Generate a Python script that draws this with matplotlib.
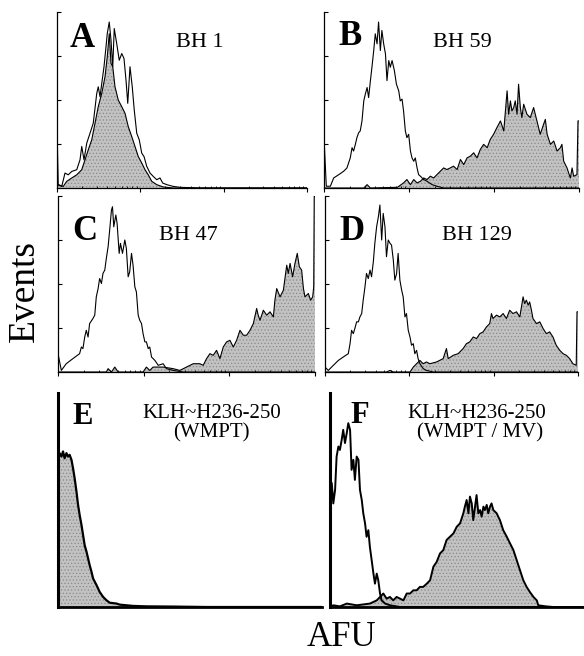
import numpy as np
import matplotlib
matplotlib.use('Agg')
import matplotlib.pyplot as plt

plt.rcParams['font.family'] = ['Liberation Serif', 'DejaVu Serif']

# channel (% of log scale, 3 decades) vs events (% of full scale)
a_open = [(0, 34.9), (0.5, 1.9), (1.9, 0.9), (3.2, 8.5), (4.5, 7.5), (5.9, 9.4), (7.9, 10.4),
          (9.2, 16.0), (9.9, 23.6), (10.8, 16.0), (11.9, 25.5), (13.2, 31.1), (14.5, 36.8),
          (15.9, 53.8), (16.5, 57.5), (17.2, 51.9), (17.9, 59.4), (18.8, 68.9), (19.6, 80.2),
          (20.1, 87.7), (20.9, 94.3), (21.6, 84.0), (22.3, 68.9), (22.9, 90.6), (23.9, 81.9),
          (24.9, 72.6), (25.9, 76.4), (26.8, 73.6), (27.6, 61.3), (28.3, 48.1), (29.2, 68.9),
          (30.1, 57.5), (30.9, 44.3), (31.9, 31.1), (32.9, 27.4), (33.9, 19.8), (34.8, 17.9),
          (35.9, 12.3), (37.2, 8.5), (38.5, 6.6), (39.9, 4.7), (41.2, 5.7), (42.3, 2.8),
          (43.9, 1.9), (46.5, 0.9), (49.2, 0.4), (57.2, 0), (100, 0)]
a_fill = [(0, 0), (0.5, 1.9), (2.5, 0.9), (3.9, 3.8), (5.9, 5.7), (7.9, 7.5), (9.9, 10.4),
          (11.2, 16.0), (12.5, 21.7), (13.9, 27.4), (15.2, 36.8), (16.5, 46.2), (17.9, 53.8),
          (19.2, 63.2), (20.1, 74.5), (20.9, 87.7), (21.6, 70.8), (22.3, 68.9), (23.2, 57.5),
          (24.5, 50.0), (25.9, 46.2), (27.2, 42.5), (28.5, 34.9), (29.9, 29.2), (31.2, 23.6),
          (32.5, 17.9), (33.9, 14.2), (35.2, 10.4), (36.5, 7.5), (37.9, 3.8), (39.9, 1.9),
          (42.5, 0.6), (46.5, 0), (100, 0)]

b_open = [(0, 28.6), (0.9, 1.0), (2.5, 1.0), (3.8, 5.7), (5.8, 7.6), (7.7, 9.5), (9.0, 11.4),
          (10.3, 17.1), (11.0, 22.9), (11.6, 21.0), (12.3, 24.8), (12.9, 28.6), (13.6, 31.4),
          (14.2, 32.4), (14.9, 38.1), (15.6, 49.5), (16.2, 53.3), (16.9, 57.1), (17.5, 51.4),
          (18.2, 61.0), (18.8, 68.6), (19.5, 78.1), (20.1, 87.6), (20.8, 81.9), (21.4, 94.3),
          (22.1, 78.1), (22.7, 89.5), (23.4, 81.9), (24.1, 76.2), (24.7, 61.0), (25.4, 72.4),
          (26.0, 68.6), (26.7, 72.4), (27.6, 66.7), (28.4, 59.0), (29.3, 55.2), (29.9, 49.5),
          (30.6, 50.5), (31.2, 43.8), (31.9, 32.4), (32.5, 28.6), (33.2, 30.5), (33.9, 21.0),
          (34.5, 17.1), (35.2, 15.2), (35.8, 17.1), (36.5, 11.4), (37.1, 7.6), (37.8, 6.7),
          (39.1, 4.8), (40.4, 3.8), (42.4, 1.9), (44.3, 1.0), (46.9, 0), (100, 0)]
b_fill = [(0, 0), (15.6, 0), (16.9, 1.9), (18.2, 0), (28.8, 0.4), (31.2, 2.9), (32.5, 4.8),
          (33.9, 1.9), (35.2, 4.8), (36.5, 2.9), (37.8, 3.8), (39.1, 5.7), (40.4, 4.8),
          (41.7, 6.7), (43.0, 5.7), (44.3, 7.6), (45.6, 9.5), (46.9, 11.4), (48.2, 10.5),
          (49.5, 11.4), (50.8, 12.4), (52.2, 10.5), (53.5, 16.2), (54.8, 13.3), (56.1, 17.1),
          (57.4, 18.1), (58.7, 20.0), (60.0, 17.1), (61.3, 21.9), (62.6, 24.8), (64.0, 22.9),
          (65.2, 27.6), (66.5, 30.5), (67.8, 34.3), (69.2, 38.1), (70.5, 32.4), (71.8, 55.2),
          (72.4, 41.9), (73.1, 49.5), (73.7, 43.8), (74.4, 45.7), (75.0, 49.5), (75.7, 41.9),
          (76.3, 59.0), (77.0, 45.7), (77.6, 40.0), (78.3, 47.6), (79.6, 41.9), (80.9, 40.0),
          (82.2, 45.7), (83.5, 38.1), (84.8, 30.5), (86.1, 36.2), (86.8, 39.0), (87.5, 30.5),
          (88.8, 24.8), (90.1, 26.7), (91.4, 21.0), (92.7, 22.9), (93.3, 24.8), (94.0, 15.2),
          (95.3, 11.4), (96.6, 5.7), (97.3, 11.4), (97.9, 6.7), (99.2, 7.6), (99.6, 38.1),
          (100, 38.1)]

c_open = [(0, 10.4), (1.3, 0.9), (3.2, 4.7), (5.8, 7.6), (8.4, 10.4), (9.1, 14.2), (9.7, 13.3),
          (10.4, 19.9), (11.0, 23.7), (11.7, 19.9), (12.3, 27.5), (13.6, 30.4), (14.3, 32.3),
          (14.9, 42.7), (15.6, 47.4), (16.2, 53.1), (16.9, 50.3), (17.5, 56.0), (18.2, 57.9),
          (18.8, 64.5), (19.5, 71.2), (20.1, 80.6), (20.8, 92.0), (21.2, 93.9), (21.7, 82.5),
          (22.5, 89.2), (23.0, 84.4), (23.8, 67.4), (24.3, 73.1), (25.1, 67.4), (26.0, 75.0),
          (26.6, 70.2), (27.3, 54.1), (27.9, 56.9), (28.6, 67.4), (29.2, 60.7), (29.9, 48.4),
          (30.5, 45.5), (31.2, 32.3), (31.8, 29.4), (32.5, 27.5), (33.1, 21.8), (33.8, 17.1),
          (34.4, 17.1), (35.1, 13.3), (35.7, 14.2), (36.4, 8.5), (37.7, 6.6), (39.0, 3.8),
          (40.9, 4.7), (42.2, 1.9), (44.8, 0.9), (48.7, 0), (100, 0)]
c_fill = [(0, 0), (18.8, 0), (19.5, 1.9), (20.8, 0), (22.1, 2.8), (23.4, 0), (33.1, 0),
          (34.4, 2.8), (35.7, 0.9), (37.0, 2.8), (40.9, 2.8), (44.8, 1.9), (47.4, 0.9),
          (50.0, 2.8), (52.6, 4.7), (55.2, 4.7), (56.5, 3.8), (57.8, 7.6), (59.1, 10.4),
          (60.4, 9.5), (61.7, 12.3), (63.0, 7.6), (64.3, 14.2), (65.6, 17.1), (66.9, 18.0),
          (68.2, 14.2), (69.5, 18.0), (70.8, 23.7), (72.1, 20.9), (73.4, 20.9), (74.7, 23.7),
          (76.0, 27.5), (77.3, 36.1), (77.9, 32.3), (78.6, 29.4), (79.9, 35.1), (81.2, 32.3),
          (82.5, 34.2), (83.8, 31.3), (84.4, 40.8), (85.1, 47.4), (86.4, 42.7), (87.7, 46.5),
          (89.0, 60.7), (89.6, 56.0), (90.3, 61.7), (91.3, 54.1), (92.2, 61.7), (93.1, 67.4),
          (93.9, 59.8), (94.8, 57.9), (95.5, 47.4), (96.1, 42.7), (97.4, 44.6), (98.3, 40.8),
          (99.1, 42.7), (99.5, 48.4), (99.7, 100), (100, 100)]

d_open = [(0, 2.8), (1.3, 0.9), (3.3, 3.8), (5.3, 6.6), (7.2, 8.5), (9.2, 10.4), (9.9, 16.1),
          (10.5, 23.7), (11.2, 21.8), (11.8, 24.7), (12.5, 28.5), (13.2, 28.5), (13.8, 31.3),
          (14.5, 33.2), (15.1, 40.8), (15.8, 48.4), (16.4, 56.0), (17.1, 53.1), (17.8, 57.9),
          (18.4, 54.1), (19.1, 62.6), (19.7, 73.1), (20.4, 82.5), (21.1, 88.2), (21.7, 94.9),
          (22.4, 75.0), (23.0, 90.1), (23.7, 82.5), (24.3, 65.5), (25.0, 75.0), (25.7, 73.1),
          (26.3, 72.1), (27.0, 63.6), (27.6, 52.2), (28.3, 55.9), (28.9, 67.4), (29.6, 52.2),
          (30.3, 46.5), (30.9, 42.7), (31.6, 31.3), (32.2, 33.2), (32.9, 23.7), (33.6, 19.9),
          (34.2, 15.2), (34.9, 16.1), (35.5, 10.4), (36.2, 12.3), (36.8, 7.6), (37.5, 4.7),
          (38.8, 1.9), (40.1, 0.9), (42.8, 0), (100, 0)]
d_fill = [(0, 0), (24.3, 0), (25.7, 0.9), (27.0, 0), (33.6, 0), (34.9, 2.8), (36.2, 4.7),
          (37.5, 6.6), (38.8, 4.7), (40.1, 5.7), (41.4, 4.7), (44.1, 5.7), (46.7, 7.6),
          (48.0, 13.3), (48.7, 7.6), (50.7, 9.5), (52.6, 10.4), (54.6, 13.3), (55.9, 16.1),
          (57.2, 17.1), (58.6, 19.9), (59.9, 19.0), (61.2, 21.8), (62.5, 22.8), (63.8, 25.6),
          (65.1, 27.5), (65.8, 33.2), (66.4, 30.4), (67.8, 32.3), (69.1, 31.3), (70.4, 33.2),
          (71.7, 30.4), (73.0, 35.1), (74.3, 33.2), (75.7, 34.2), (77.0, 31.3), (78.3, 42.7),
          (78.9, 38.9), (79.6, 40.8), (80.3, 38.0), (80.9, 39.8), (81.6, 35.1), (82.2, 30.4),
          (83.6, 27.5), (84.9, 28.5), (86.2, 24.7), (87.5, 21.8), (88.8, 22.8), (90.1, 19.9),
          (91.4, 15.2), (92.8, 12.3), (94.1, 10.4), (95.4, 9.5), (96.7, 7.6), (98.0, 4.7),
          (99.3, 3.8), (99.6, 34.2), (100, 34.2)]

e_fill = [(0, 70.3), (0.6, 71.9), (1.3, 70.3), (1.9, 72.7), (2.5, 69.5), (3.2, 71.9), (3.8, 70.3),
          (4.4, 71.1), (5.1, 68.8), (5.7, 64.8), (6.3, 60.2), (7.0, 53.9), (7.6, 47.7),
          (8.2, 43.0), (8.9, 38.3), (9.5, 33.6), (10.1, 28.9), (10.8, 25.8), (11.4, 22.7),
          (12.0, 19.5), (12.7, 16.4), (13.3, 13.3), (14.6, 10.2), (15.8, 7.0), (17.1, 4.7),
          (18.4, 3.1), (19.6, 2.0), (22.2, 1.6), (23.4, 1.1), (25.9, 0.8), (28.5, 0.5),
          (33.5, 0.3), (43.7, 0.2), (56.3, 0), (100, 0)]

f_open = [(0, 59.4), (0.7, 57.8), (1.3, 48.4), (2.0, 54.7), (2.6, 70.3), (3.3, 75.0), (3.9, 73.4),
          (4.6, 78.1), (5.2, 82.8), (5.9, 76.6), (6.6, 81.3), (7.2, 85.9), (7.9, 82.8),
          (8.5, 64.1), (9.2, 68.8), (9.8, 59.4), (10.5, 70.3), (11.2, 68.8), (11.8, 54.7),
          (12.5, 50.0), (13.1, 43.8), (13.8, 39.1), (14.4, 32.8), (15.1, 35.9), (15.7, 28.1),
          (16.4, 21.9), (17.1, 15.6), (17.7, 10.9), (18.4, 15.6), (19.0, 12.5), (19.7, 6.3),
          (20.3, 3.1), (21.7, 1.6), (23.6, 0.8), (27.6, 0), (100, 0)]
f_fill = [(0, 0), (1.3, 0.8), (3.9, 0.3), (6.6, 1.6), (10.5, 0.8), (15.7, 1.6), (18.4, 3.1),
          (21.0, 6.3), (22.3, 3.9), (23.6, 4.7), (24.9, 3.1), (26.2, 4.7), (27.6, 3.9),
          (28.9, 3.1), (30.2, 6.3), (31.5, 6.3), (32.8, 7.8), (34.1, 7.8), (35.4, 9.4),
          (36.7, 9.4), (38.1, 10.9), (39.4, 12.5), (40.7, 18.8), (42.0, 21.1), (43.3, 25.0),
          (44.6, 26.6), (45.9, 31.3), (47.2, 32.8), (48.6, 34.4), (49.9, 37.5), (51.2, 39.1),
          (52.5, 43.8), (53.1, 46.9), (53.8, 50.0), (54.5, 43.8), (55.1, 51.6), (55.8, 48.4),
          (56.4, 40.6), (57.1, 46.9), (57.7, 52.3), (58.4, 43.8), (59.1, 45.3), (59.7, 42.2),
          (60.4, 46.9), (61.0, 45.3), (61.7, 47.7), (62.3, 43.8), (63.0, 46.9), (63.6, 48.4),
          (64.3, 45.3), (65.6, 43.8), (66.9, 40.6), (68.2, 35.9), (69.6, 32.8), (70.9, 29.7),
          (72.2, 26.6), (73.5, 21.9), (74.8, 17.2), (76.1, 12.5), (77.4, 9.4), (78.7, 7.0),
          (80.1, 4.7), (81.4, 3.1), (82.0, 0.8), (85.0, 0.3), (87.9, 0), (100, 0)]

GRAY = '#c2c2c2'
W, H = 584.0, 656.0


def rect(x0, y0, x1, y1):
    # pixel box -> figure fraction
    return [x0 / W, 1 - y1 / H, (x1 - x0) / W, (y1 - y0) / H]


def panel(box, fill, line=None, lw=0.8, thick=False):
    ax = fig.add_axes(rect(*box))
    fx, fy = np.array(fill).T
    ax.fill_between(fx, fy, 0, facecolor=GRAY, edgecolor='#8a8a8a', hatch='.....', lw=0)
    ax.plot(fx, fy, color='k', lw=lw)
    if line is not None:
        ox, oy = np.array(line).T
        ax.plot(ox, oy, color='k', lw=lw)
    ax.set_xlim(0, 100)
    ax.set_ylim(0, 100)
    ax.spines['top'].set_visible(False)
    ax.spines['right'].set_visible(False)
    ax.set_xticklabels([])
    ax.set_yticklabels([])
    if thick:
        ax.spines['left'].set_linewidth(2.2)
        ax.spines['bottom'].set_linewidth(2.0)
        ax.set_xticks([])
        ax.set_yticks([])
    else:
        ax.spines['left'].set_linewidth(0.9)
        ax.spines['bottom'].set_linewidth(0.9)
        ax.set_xticks([0, 100 / 3, 200 / 3, 100])
        minor = [100 / 3 * (d + np.log10(k)) for d in range(3) for k in range(2, 10)]
        ax.set_xticks(minor, minor=True)
        ax.set_yticks([25, 50, 75, 100])
        ax.tick_params(axis='x', which='major', direction='out', length=3, width=0.8)
        ax.tick_params(axis='x', which='minor', direction='in', length=1.5, width=0.6)
        ax.tick_params(axis='y', direction='in', length=3, width=0.8)
    return ax


plt.rcParams['hatch.linewidth'] = 0.5
fig = plt.figure(figsize=(5.84, 6.56), dpi=100)

panel((57, 12, 307, 188), a_fill, a_open)
panel((324, 12, 579, 188), b_fill, b_open)
panel((58, 196, 315, 372), c_fill, c_open)
panel((325, 196, 578, 372), d_fill, d_open)
panel((58, 393, 322, 607), e_fill, None, lw=1.6, thick=True)
panel((330, 393, 584, 607), f_fill, f_open, lw=1.4, thick=True)


def label(x, y, s, size, **kw):
    fig.text(x / W, 1 - y / H, s, fontsize=size, va='baseline', **kw)


label(70, 47, 'A', 25, fontweight='bold')
label(338, 45, 'B', 25, fontweight='bold')
label(72, 240, 'C', 25, fontweight='bold')
label(339, 240, 'D', 25, fontweight='bold')
label(72, 424, 'E', 22, fontweight='bold')
label(350, 423, 'F', 22, fontweight='bold')

label(176, 47, 'BH 1', 16)
label(433, 47, 'BH 59', 16)
label(159, 240, 'BH 47', 16)
label(442, 240, 'BH 129', 16)

label(212, 418, 'KLH~H236-250', 15, ha='center')
label(211, 437, '(WMPT)', 15, ha='center')
label(477, 418, 'KLH~H236-250', 15, ha='center')
label(480, 437, '(WMPT / MV)', 15, ha='center')

fig.text(25 / W, 1 - 291 / H, 'Events', fontsize=27, rotation=90, ha='center', va='center')
fig.text(341 / W, 1 - 646 / H, 'AFU', fontsize=25, ha='center', va='baseline')

fig.savefig('out.png', dpi=100)
